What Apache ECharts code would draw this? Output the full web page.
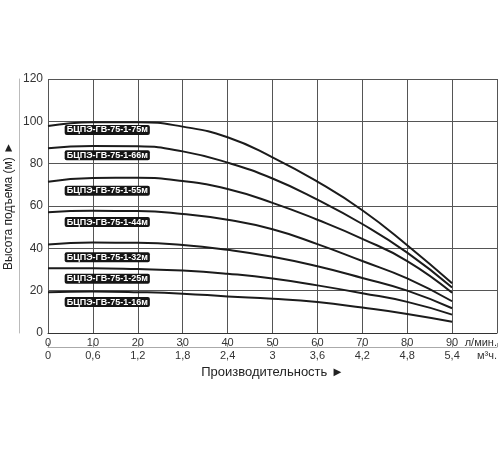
<!DOCTYPE html>
<html><head><meta charset="utf-8">
<script src="https://cdn.jsdelivr.net/npm/echarts@6/dist/echarts.min.js"></script>
<style>html,body{margin:0;padding:0;background:#fff}#c{width:500px;height:450px}</style>
</head><body><div id="c"></div>
<script>
const flowX = [0, 10, 20, 30, 40, 50, 60, 70, 80, 90];
const h75 = [97.8, 99.6, 99.6, 97.5, 92.5, 83.0, 71.5, 58.0, 41.5, 23.5];
const h66 = [87.3, 88.4, 88.2, 85.8, 80.5, 73.0, 63.0, 51.5, 38.0, 21.5];
const h55 = [71.5, 73.2, 73.3, 71.8, 68.0, 61.5, 53.5, 44.5, 34.0, 19.0];
const h44 = [57.0, 57.7, 57.6, 56.2, 53.5, 49.0, 42.0, 34.0, 25.8, 15.0];
const h32 = [41.8, 42.7, 42.6, 41.6, 39.3, 36.0, 31.5, 26.0, 20.0, 11.7];
const h25 = [30.6, 30.6, 30.2, 29.5, 28.0, 25.8, 22.5, 18.8, 14.7, 8.7];
const h16 = [19.2, 19.6, 19.3, 18.6, 17.3, 16.2, 14.6, 12.0, 9.0, 5.3];
const seriesNames = ['БЦПЭ-ГВ-75-1-75м', 'БЦПЭ-ГВ-75-1-66м', 'БЦПЭ-ГВ-75-1-55м', 'БЦПЭ-ГВ-75-1-44м', 'БЦПЭ-ГВ-75-1-32м', 'БЦПЭ-ГВ-75-1-25м', 'БЦПЭ-ГВ-75-1-16м'];
const seriesValues = [h75, h66, h55, h44, h32, h25, h16];
const labelFlow = [13.2, 13.2, 13.2, 13.2, 13.2, 13.2, 13.2];
const labelHead = [95.9, 84.0, 67.2, 52.4, 35.8, 25.6, 14.6];
const flowTicks = ['0', '10', '20', '30', '40', '50', '60', '70', '80', '90', 'л/мин.'];
const m3Ticks = ['0', '0,6', '1,2', '1,8', '2,4', '3', '3,6', '4,2', '4,8', '5,4', 'м³ч.'];
const headTicks = ['0', '20', '40', '60', '80', '100', '120'];

const FONT = 'Liberation Sans, Arial, sans-serif';
const chart = echarts.init(document.getElementById('c'), null, {renderer: 'canvas'});

const series = seriesValues.map((vals, i) => ({
  name: seriesNames[i],
  type: 'line',
  smooth: 0.5,
  symbol: 'none',
  xAxisIndex: 0,
  yAxisIndex: 0,
  lineStyle: {color: '#1b1b1b', width: 2},
  data: flowX.map((x, j) => [x, vals[j]]),
  markPoint: {
    symbol: 'rect',
    symbolSize: [1, 1],
    itemStyle: {color: 'rgba(0,0,0,0)'},
    label: {
      show: true,
      position: 'inside',
      formatter: seriesNames[i],
      backgroundColor: '#151515',
      color: '#ffffff',
      fontFamily: FONT,
      fontSize: 9,
      fontWeight: 'bold',
      borderRadius: 2,
      padding: [1, 2, 0, 2]
    },
    data: [{coord: [labelFlow[i], labelHead[i]]}]
  }
}));

chart.setOption({
  animation: false,
  backgroundColor: '#ffffff',
  grid: {left: 48, right: 3, top: 79, bottom: 117, containLabel: false, outerBoundsMode: 'none'},
  xAxis: [
    {
      type: 'value', min: 0, max: 100, interval: 10, position: 'bottom',
      axisLine: {show: true, lineStyle: {color: '#333', width: 1}},
      axisTick: {show: false},
      axisLabel: {
        formatter: v => flowTicks[Math.round(v / 10)],
        fontFamily: FONT, fontSize: 11, color: '#333', margin: 4,
        showMaxLabel: true, alignMaxLabel: 'right'
      },
      splitLine: {show: true, lineStyle: {color: '#555', width: 1}}
    },
    {
      type: 'value', min: 0, max: 100, interval: 10, position: 'bottom', offset: 14,
      axisLine: {show: true, onZero: false, lineStyle: {color: '#aaa', width: 1}},
      axisTick: {show: true, inside: true, length: 4, lineStyle: {color: '#999'}},
      axisLabel: {
        formatter: v => m3Ticks[Math.round(v / 10)],
        fontFamily: FONT, fontSize: 11, color: '#333', margin: 3,
        showMaxLabel: true, alignMaxLabel: 'right'
      },
      splitLine: {show: false},
      name: 'Производительность ►',
      nameLocation: 'middle',
      nameGap: 15,
      nameTextStyle: {fontFamily: FONT, fontSize: 13, color: '#222'}
    }
  ],
  yAxis: [
    {
      type: 'value', min: 0, max: 120, interval: 20,
      axisLine: {show: false},
      axisTick: {show: false},
      axisLabel: {
        formatter: v => headTicks[Math.round(v / 20)],
        fontFamily: FONT, fontSize: 12, color: '#333', margin: 5
      },
      splitLine: {show: true, lineStyle: {color: '#555', width: 1}}
    },
    {
      type: 'value', min: 0, max: 120, interval: 20, position: 'left', offset: 29,
      axisLine: {show: true, onZero: false, lineStyle: {color: '#bbb', width: 1}},
      axisTick: {show: false},
      axisLabel: {show: false},
      splitLine: {show: false},
      name: 'Высота подъема (м) ►',
      nameLocation: 'middle',
      nameRotate: 90,
      nameGap: 4,
      nameTextStyle: {fontFamily: FONT, fontSize: 12, color: '#222'}
    }
  ],
  series: series
});
</script></body></html>
